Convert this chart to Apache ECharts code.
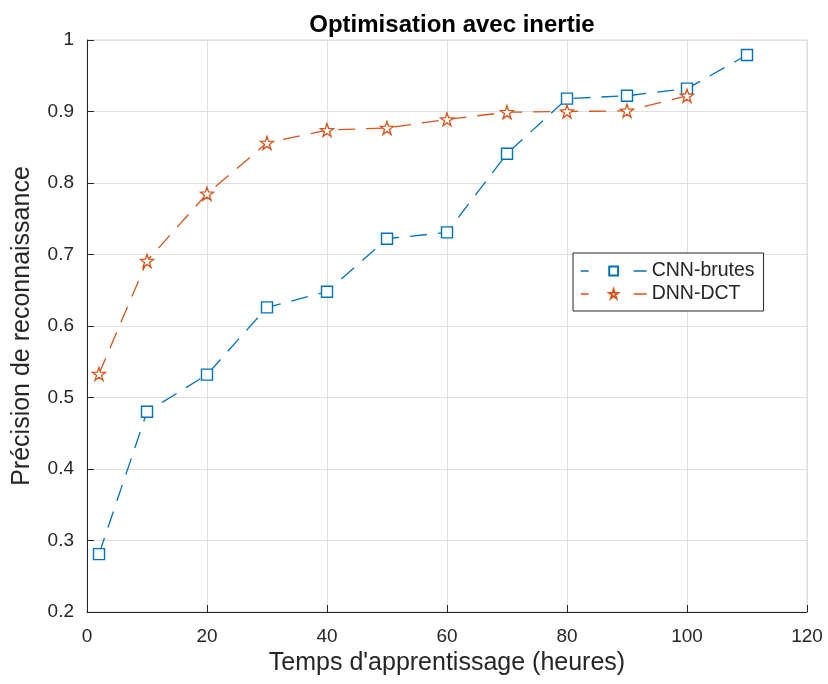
<!DOCTYPE html>
<html>
<head>
<meta charset="utf-8">
<script src="https://cdn.jsdelivr.net/npm/echarts@6/dist/echarts.min.js"></script>
<style>html,body{margin:0;padding:0;background:#fff}#c{width:828px;height:684px}</style>
</head>
<body>
<div id="c"></div>
<script>
// Training time (hours) and recognition accuracy for both models
var hours = [2, 10, 20, 30, 40, 50, 60, 70, 80, 90, 100, 110];
var cnnBrutes = [0.281, 0.480, 0.532, 0.626, 0.648, 0.722, 0.731, 0.841, 0.918, 0.922, 0.932, 0.979];
var dnnHours = [2, 10, 20, 30, 40, 50, 60, 70, 80, 90, 100];
var dnnDct = [0.533, 0.691, 0.785, 0.856, 0.874, 0.877, 0.889, 0.899, 0.900, 0.901, 0.922];
var xTicks = [0, 20, 40, 60, 80, 100, 120];
var yTicks = [0.2, 0.3, 0.4, 0.5, 0.6, 0.7, 0.8, 0.9, 1];

var BLUE = '#0072BD', ORANGE = '#D95319', INK = '#262626';
var FONT = 'Liberation Sans, Arial, sans-serif';
var STAR = 'path://M50,0 L61.8,36.2 L100,38.2 L69.1,61.8 L80.9,100 L50,76.4 L19.1,100 L30.9,61.8 L0,38.2 L38.2,36.2 Z';
var DASH = [17, 11];

function pairs(xs, ys) { return xs.map(function (x, i) { return [x, ys[i]]; }); }

var chart = echarts.init(document.getElementById('c'), null, { renderer: 'canvas' });
chart.setOption({
  backgroundColor: '#fff',
  animation: false,
  title: {
    text: 'Optimisation avec inertie', left: 447, top: 8, textAlign: 'center',
    textStyle: { fontFamily: FONT, fontSize: 24, fontWeight: 'bold', color: '#000' }
  },
  grid: { left: 87, top: 40, right: 21, bottom: 72, show: true, borderColor: '#d9d9d9', borderWidth: 1 },
  legend: {
    left: 573, top: 253, orient: 'vertical', itemWidth: 66, itemHeight: 11, itemGap: 3,
    padding: [8, 9, 7, 7], borderColor: INK, borderWidth: 1, backgroundColor: '#fff',
    textStyle: { fontFamily: FONT, fontSize: 19.5, color: INK },
    lineStyle: { type: [8, 45, 15], width: 1.3 },
    data: ['CNN-brutes', 'DNN-DCT']
  },
  xAxis: {
    type: 'value', min: 0, max: 120, interval: 20,
    name: "Temps d'apprentissage (heures)", nameLocation: 'middle', nameGap: 29,
    nameTextStyle: { fontFamily: FONT, fontSize: 25, color: INK },
    axisLine: { lineStyle: { color: INK, width: 1 } },
    axisTick: { inside: true, length: 7, lineStyle: { color: INK } },
    axisLabel: { fontFamily: FONT, fontSize: 19, color: INK, margin: 15,
      formatter: function (v) { return xTicks.indexOf(v) >= 0 ? String(v) : ''; } },
    splitLine: { show: true, lineStyle: { color: '#dfdfdf', width: 1 } }
  },
  yAxis: {
    type: 'value', min: 0.2, max: 1, interval: 0.1,
    name: 'Précision de reconnaissance', nameLocation: 'middle', nameGap: 52,
    nameTextStyle: { fontFamily: FONT, fontSize: 25, color: INK },
    axisLine: { show: true, lineStyle: { color: INK, width: 1 } },
    axisTick: { show: true, inside: true, length: 7, lineStyle: { color: INK } },
    axisLabel: { fontFamily: FONT, fontSize: 19, color: INK, margin: 13,
      formatter: function (v) {
        var r = Math.round(v * 10) / 10;
        return yTicks.indexOf(r) >= 0 ? String(r) : '';
      } },
    splitLine: { show: true, lineStyle: { color: '#dfdfdf', width: 1 } }
  },
  series: [
    {
      name: 'CNN-brutes', type: 'line', data: pairs(hours, cnnBrutes),
      color: BLUE, symbol: 'rect', symbolSize: 11,
      lineStyle: { color: BLUE, width: 1.3, type: DASH },
      itemStyle: { color: '#fff', borderColor: BLUE, borderWidth: 1.4 },
      emphasis: { disabled: true }
    },
    {
      name: 'DNN-DCT', type: 'line', data: pairs(dnnHours, dnnDct),
      color: ORANGE, symbol: STAR, symbolSize: 13,
      lineStyle: { color: ORANGE, width: 1.3, type: DASH },
      itemStyle: { color: '#fff', borderColor: ORANGE, borderWidth: 1.3 },
      emphasis: { disabled: true }
    }
  ]
});
</script>
</body>
</html>
